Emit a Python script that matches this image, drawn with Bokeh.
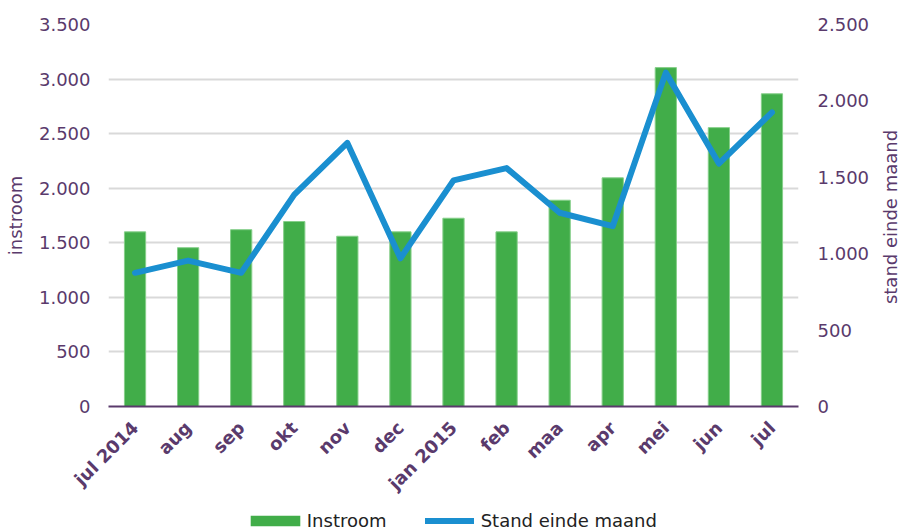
import math
from bokeh.plotting import figure
from bokeh.layouts import column, row
from bokeh.models import (FactorRange, Range1d, LinearAxis, FixedTicker, CustomJSTickFormatter,
                          Legend, LegendItem, ColumnDataSource, Label)
from bokeh.embed import file_html
from bokeh.resources import INLINE

months = ["jul 2014", "aug", "sep", "okt", "nov", "dec", "jan 2015",
          "feb", "maa", "apr", "mei", "jun", "jul"]
instroom = [1600, 1455, 1620, 1695, 1560, 1600, 1725, 1600, 1890, 2095, 3105, 2555, 2865]
stand = [875, 955, 875, 1387, 1725, 970, 1480, 1560, 1268, 1180, 2185, 1590, 1925]
left_ticks = [0, 500, 1000, 1500, 2000, 2500, 3000, 3500]
right_ticks = [0, 500, 1000, 1500, 2000, 2500]

PURPLE = "#5a3a6c"
FONT = "DejaVu Sans"
GREEN = "#41ad49"
GREEN_EDGE = "#86cf8a"
BLUE = "#1a8fd0"

src = ColumnDataSource(dict(month=months, instroom=instroom, stand=stand))

p = figure(x_range=FactorRange(*months, range_padding=0),
           y_range=Range1d(0, max(left_ticks)),
           frame_width=690, frame_height=382,
           min_border_left=108, min_border_right=83,
           min_border_top=24, min_border_bottom=106,
           output_backend="svg", toolbar_location=None)
p.extra_y_ranges = {"right": Range1d(0, max(right_ticks))}
p.outline_line_color = None

bars = p.vbar(x="month", top="instroom", width=0.4, source=src,
              fill_color=GREEN, line_color=GREEN_EDGE, line_width=1)
line = p.line(x="month", y="stand", source=src, y_range_name="right",
              line_color=BLUE, line_width=6, line_join="round", line_cap="round")

fmt = CustomJSTickFormatter(code="return Math.round(tick).toString().replace(/\\B(?=(\\d{3})+(?!\\d))/g, '.');")

def style_y(ax, standoff):
    ax.axis_line_color = None
    ax.major_tick_line_color = None
    ax.minor_tick_line_color = None
    ax.major_tick_out = 0
    ax.major_tick_in = 0
    ax.minor_tick_out = 0
    ax.major_label_standoff = standoff
    ax.major_label_text_font = FONT
    ax.major_label_text_font_size = "18px"
    ax.major_label_text_color = PURPLE
    ax.axis_label_text_font = FONT
    ax.axis_label_text_font_size = "18px"
    ax.axis_label_text_font_style = "normal"
    ax.axis_label_text_color = PURPLE

# left axis
ya = p.yaxis[0]
ya.ticker = FixedTicker(ticks=left_ticks)
ya.formatter = fmt
ya.axis_label = "instroom"
style_y(ya, 18)
ya.axis_label_standoff = 10

# right axis (its title is drawn in a narrow strip to the right, reading upwards)
ra = LinearAxis(y_range_name="right", ticker=FixedTicker(ticks=right_ticks), formatter=fmt)
style_y(ra, 19)
p.add_layout(ra, "right")

# x axis
xa = p.xaxis[0]
xa.axis_line_color = PURPLE
xa.axis_line_width = 2
xa.major_tick_line_color = None
xa.minor_tick_line_color = None
xa.major_tick_out = 0
xa.major_tick_in = 0
xa.minor_tick_out = 0
xa.major_label_orientation = math.pi / 4
xa.major_label_standoff = 18
xa.major_label_text_font = FONT
xa.major_label_text_font_style = "bold"
xa.major_label_text_font_size = "18px"
xa.major_label_text_color = PURPLE

p.xgrid.grid_line_color = None
p.ygrid.grid_line_color = "#d9d9d9"
p.ygrid.grid_line_width = 2

# right axis title strip (its frame is aligned with the main frame)
rf = figure(width=20, height=512, x_range=Range1d(0, 1), y_range=Range1d(0, 1),
            x_axis_type=None, y_axis_type=None, min_border=0,
            min_border_left=0, min_border_right=0, min_border_top=0, min_border_bottom=0,
            output_backend="svg", toolbar_location=None)
rf.outline_line_color = None
rf.grid.grid_line_color = None
rf.add_layout(Label(x=9, y=189.5, x_units="screen", y_units="screen",
                    text="stand einde maand", angle=math.pi / 2,
                    text_align="center", text_baseline="middle",
                    text_font=FONT, text_font_size="18px", text_color=PURPLE))

# legend strip (own small figure, same glyph styles, marks kept far out of view)
lg = figure(width=901, height=16, x_range=FactorRange(*months), y_range=Range1d(1e7, 1e7 + 1),
            x_axis_type=None, y_axis_type=None, min_border=0,
            min_border_left=0, min_border_right=0, min_border_top=0, min_border_bottom=0,
            output_backend="svg", toolbar_location=None)
lg.outline_line_color = None
lg.grid.grid_line_color = None
lbar = lg.vbar(x="month", bottom="instroom", top="instroom", width=0.4, source=src,
               fill_color=GREEN, line_color=None)
lline = lg.line(x="month", y="stand", source=src, line_color=BLUE, line_width=6,
                line_join="round", line_cap="round")

common = dict(orientation="horizontal", padding=0, margin=0, border_line_color=None,
              background_fill_alpha=0, label_text_font=FONT, label_text_font_size="18px",
              label_text_color="#222222", label_height=24, glyph_height=13)
leg1 = Legend(items=[LegendItem(label="Instroom", renderers=[lbar])],
              location=(243.8, -4.7), glyph_width=62, label_standoff=1, **common)
leg2 = Legend(items=[LegendItem(label="Stand einde maand", renderers=[lline])],
              location=(424.7, -4.7), glyph_width=49, label_standoff=7, **common)
lg.add_layout(leg1, "center")
lg.add_layout(leg2, "center")

layout = column(row(p, rf, spacing=0), lg, spacing=0)
open("out.html", "w").write(file_html(layout, INLINE))
